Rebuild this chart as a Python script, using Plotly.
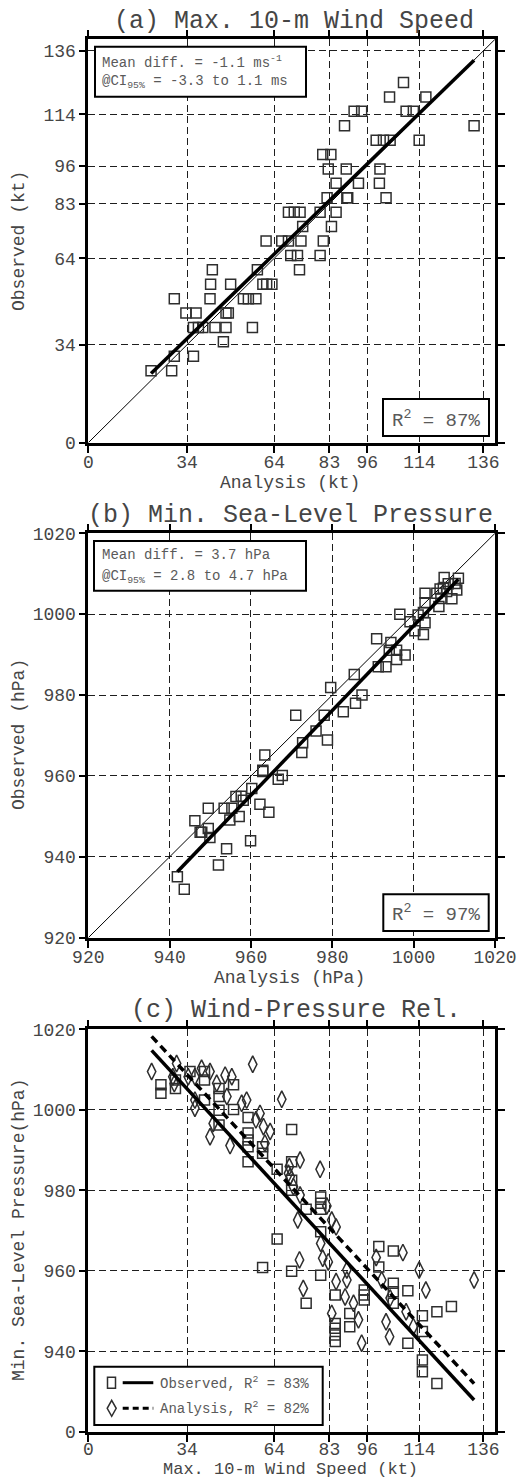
import numpy as np
import plotly.graph_objects as go

W, H = 521, 1480

# ---------------- panel (a): max. 10-m wind speed (kt) ----------------
wind_analysis = [21.6, 28.7, 29.6, 36.2, 46.5,
                 36.2, 37.9, 39.4, 43.6, 47.4, 56.5,
                 33.6, 37.1, 47.4, 48.2,
                 29.6, 41.9, 53.4, 55.1, 57.7,
                 42.1, 49.0, 60.1, 61.4, 63.2,
                 42.7, 58.2, 72.7,
                 69.7, 72.0, 79.8,
                 61.2, 66.6, 68.9, 73.2, 80.9,
                 73.8, 83.7,
                 68.9, 70.9, 72.9, 79.8, 85.3,
                 82.2, 89.0, 89.3, 102.5,
                 85.3, 93.0, 100.2,
                 82.6, 88.8, 100.4,
                 80.7, 83.5,
                 99.1, 101.6, 103.9, 113.9,
                 88.2, 132.8,
                 91.5, 94.1, 109.4, 111.9,
                 103.7, 116.2,
                 108.5]
wind_observed = [25, 25, 30, 30, 35,
                 40, 40, 40, 40, 40, 40,
                 45, 45, 45, 45,
                 50, 50, 50, 50, 50,
                 55, 55, 55, 55, 55,
                 60, 60, 60,
                 65, 65, 65,
                 70, 70, 70, 70, 70,
                 75, 75,
                 80, 80, 80, 80, 80,
                 85, 85, 85, 85,
                 90, 90, 90,
                 95, 95, 95,
                 100, 100,
                 105, 105, 105, 105,
                 110, 110,
                 115, 115, 115, 115,
                 120, 120,
                 125]

# ---------------- panel (b): min. sea-level pressure (hPa) ----------------
slp_analysis = [1007.5, 1011.0, 1008.5, 1010.2, 1007.3, 1010.6, 1006.5, 1005.7,
                1009.4, 1006.7, 1006.2, 1008.1, 1002.8, 1002.8, 1002.4, 1001.1,
                996.6, 999.1, 1002.8, 1000.3, 1002.4, 990.9, 994.4, 994.0,
                995.8, 997.9, 995.8, 991.3, 993.2, 985.4, 987.3, 985.7,
                979.6, 982.7, 971.0, 978.0, 976.0, 978.8, 972.7, 972.5,
                963.4, 962.9, 962.9, 966.7, 967.7, 960.2, 956.3, 957.6,
                958.1, 949.5, 953.4, 955.3, 962.2, 964.4, 946.2, 954.8,
                957.1, 949.5, 947.5, 947.9, 949.9, 959.9, 954.0, 952.0,
                941.9, 943.6]
slp_observed = [1009.1, 1008.9, 1007.5, 1007.6, 1006.4, 1006.0, 1006.2, 1005.2,
                1003.8, 1003.9, 1001.9, 1005.6, 1005.2, 1002.8, 1000.4, 999.8,
                1000.0, 998.1, 997.9, 995.9, 995.0, 993.9, 993.0, 991.1,
                991.1, 989.9, 988.8, 987.0, 987.0, 985.1, 980.0, 978.0,
                981.9, 975.9, 975.0, 975.0, 971.1, 968.9, 968.2, 965.8,
                965.2, 961.1, 961.4, 959.2, 960.1, 956.9, 954.9, 955.0,
                954.0, 952.0, 952.0, 952.0, 953.0, 951.0, 948.9, 949.1,
                950.0, 947.0, 946.1, 946.1, 944.8, 944.0, 942.0, 938.0,
                935.1, 932.0]

# ---------------- panel (c): wind-pressure relationship ----------------
obs_wind = [25, 25, 30, 30, 35, 40, 40, 40, 45, 45, 45, 45, 50, 50,
            55, 55, 55, 55, 55, 60, 60, 60, 65, 65,
            70, 70, 70, 70, 70, 75, 75, 80, 80, 80, 80, 80,
            85, 85, 85, 85, 85, 90, 90, 95, 95, 95, 100, 100,
            105, 105, 105, 105, 110, 110, 115, 115, 115, 115,
            120, 120, 125]
obs_slp = [1006.2, 1004.1, 1007.4, 1005.3, 1009.5, 1009.5, 1007.4, 1002.4,
           1005.3, 1003.3, 999.9, 996.2, 1006.2, 1000.1,
           998.1, 994.2, 992.5, 990.8, 987.1, 990.8, 989.2, 960.8, 985.2, 967.9,
           995.1, 987.1, 982.5, 980.0, 959.9, 975.3, 951.9,
           978.3, 976.8, 975.3, 969.7, 958.9,
           954.0, 946.9, 945.7, 944.0, 942.4, 949.4, 946.1,
           955.2, 954.0, 952.7, 966.0, 960.9,
           964.9, 956.9, 954.8, 951.9, 955.0, 942.0,
           948.8, 944.9, 937.8, 934.9, 949.8, 932.0, 951.1]

ana_wind = [21.8, 29.1, 30.4, 29.6, 34.4, 36.7, 39.0, 41.9, 36.7, 36.7,
            44.2, 47.1, 49.4, 47.7, 43.0, 41.9, 48.8, 52.8, 54.5, 56.6,
            59.1, 57.7, 60.3, 62.6, 60.8, 66.6, 69.2, 68.9, 72.9, 79.8,
            69.5, 70.6, 72.9, 72.1, 82.1, 83.8, 85.3, 80.0, 80.7, 82.6,
            72.7, 74.0, 85.3, 89.0, 89.0, 88.4, 83.8, 91.3, 93.0, 94.1,
            99.1, 101.0, 103.9, 102.5, 103.7, 108.3, 109.4, 111.9, 113.9,
            116.2, 132.8]
ana_slp = [1009.5, 1008.2, 1011.5, 1006.5, 1008.2, 1008.2, 1010.3, 1009.5,
           1002.4, 1000.4, 1006.6, 1008.6, 1008.2, 1003.3, 996.6, 993.3,
           991.1, 1001.6, 1002.4, 1011.3, 999.1, 997.5, 995.8, 994.6,
           991.7, 1002.6, 985.9, 984.2, 987.5, 985.2, 983.4, 980.9, 978.8,
           972.6, 976.1, 972.6, 970.9, 966.8, 963.1, 962.2, 962.7, 955.6,
           957.3, 960.2, 957.7, 953.5, 949.4, 951.9, 947.8, 942.0, 963.3,
           957.7, 953.2, 947.3, 943.6, 964.5, 949.8, 946.1, 960.2, 955.2,
           957.7]

# ---------------- axes ----------------
wind_ticks = [0, 34, 64, 83, 96, 114, 136]
wind_range = [0, 140]
slp_ticks = [920, 940, 960, 980, 1000, 1020]
slp_range = [920, 1020]
slp_ticktext_c = ["0", "940", "960", "980", "1000", "1020"]

FONT = "Liberation Mono, Courier New, monospace"
INK = "#454545"
SOFT = "#5a5a5a"
MARK = "#2e2e2e"

X0, X1 = 88.3, 495.0
ROWS = {"a": (39.3, 442.7), "b": (533.3, 937.7), "c": (1029.3, 1431.7)}


def fx(p):
    return p / W


def fy(p):
    return 1 - p / H


def ydom(key):
    top, bot = ROWS[key]
    return [fy(bot), fy(top)]


def axis(ticks, rng, domain, anchor, standoff, ticktext=None):
    return dict(
        range=rng, tickmode="array", tickvals=ticks,
        ticktext=ticktext if ticktext else [str(t) for t in ticks],
        domain=domain, anchor=anchor,
        showline=True, linecolor="black", linewidth=2.6, mirror="ticks",
        ticks="outside", ticklen=7, tickwidth=1.5, tickcolor="black",
        ticklabelstandoff=standoff,
        showgrid=True, gridcolor="#1e1e1e", gridwidth=1, griddash="7px,4px",
        zeroline=False, automargin=False, fixedrange=True,
        tickfont=dict(family=FONT, size=18, color=INK),
    )


def fit_line(x, y, xs):
    k, b = np.polyfit(np.asarray(x, float), np.asarray(y, float), 1)
    xs = np.asarray(xs, float)
    return xs, k * xs + b


fig = go.Figure()

sq = dict(symbol="square-open", size=10, color=MARK, line=dict(width=1.5))
dm = dict(symbol="diamond-tall-open", size=12, color=MARK, line=dict(width=1.5))

# (a)
fig.add_trace(go.Scatter(x=wind_range, y=wind_range, mode="lines",
                         line=dict(color="black", width=1), xaxis="x", yaxis="y"))
fig.add_trace(go.Scatter(x=wind_analysis, y=wind_observed, mode="markers",
                         marker=sq, xaxis="x", yaxis="y"))
xa, ya = fit_line(wind_analysis, wind_observed, [min(wind_analysis), max(wind_analysis)])
fig.add_trace(go.Scatter(x=xa, y=ya, mode="lines", line=dict(color="black", width=3.5),
                         xaxis="x", yaxis="y"))

# (b)
fig.add_trace(go.Scatter(x=slp_range, y=slp_range, mode="lines",
                         line=dict(color="black", width=1), xaxis="x2", yaxis="y2"))
fig.add_trace(go.Scatter(x=slp_analysis, y=slp_observed, mode="markers",
                         marker=sq, xaxis="x2", yaxis="y2"))
xb, yb = fit_line(slp_analysis, slp_observed, [min(slp_analysis), max(slp_analysis)])
fig.add_trace(go.Scatter(x=xb, y=yb, mode="lines", line=dict(color="black", width=3.5),
                         xaxis="x2", yaxis="y2"))

# (c)
fig.add_trace(go.Scatter(x=obs_wind, y=obs_slp, mode="markers", marker=sq,
                         xaxis="x3", yaxis="y3"))
fig.add_trace(go.Scatter(x=ana_wind, y=ana_slp, mode="markers", marker=dm,
                         xaxis="x3", yaxis="y3"))
span = [min(min(obs_wind), min(ana_wind)), max(max(obs_wind), max(ana_wind))]
xo, yo = fit_line(obs_wind, obs_slp, span)
fig.add_trace(go.Scatter(x=xo, y=yo, mode="lines", line=dict(color="black", width=3.5),
                         xaxis="x3", yaxis="y3"))
xn, yn = fit_line(ana_wind, ana_slp, span)
fig.add_trace(go.Scatter(x=xn, y=yn, mode="lines",
                         line=dict(color="black", width=3.5, dash="8px,5px"),
                         xaxis="x3", yaxis="y3"))

xdom = [fx(X0), fx(X1)]
fig.update_layout(
    width=W, height=H, margin=dict(l=0, r=0, t=0, b=0),
    paper_bgcolor="white", plot_bgcolor="white", showlegend=False,
    template="none",
    xaxis=axis(wind_ticks, wind_range, xdom, "y", -6),
    yaxis=axis(wind_ticks, wind_range, ydom("a"), "x", -1),
    xaxis2=axis(slp_ticks, slp_range, xdom, "y2", -6),
    yaxis2=axis(slp_ticks, slp_range, ydom("b"), "x2", -1),
    xaxis3=axis(wind_ticks, wind_range, xdom, "y3", -8),
    yaxis3=axis(slp_ticks, slp_range, ydom("c"), "x3", -1, slp_ticktext_c),
)

ann = []
shapes = []


def text(x, y, s, size, color=INK, anchor="center", angle=0):
    ann.append(dict(x=fx(x), y=fy(y), xref="paper", yref="paper", text=s,
                    showarrow=False, xanchor=anchor, yanchor="middle",
                    textangle=angle, font=dict(family=FONT, size=size, color=color)))


def box(x0, y0, x1, y1):
    shapes.append(dict(type="rect", xref="paper", yref="paper",
                       x0=fx(x0), x1=fx(x1), y0=fy(y1), y1=fy(y0),
                       line=dict(color="black", width=2), fillcolor="white",
                       layer="above"))


# panel titles
text(294, 21, "(a) Max. 10-m Wind Speed", 25)
text(290, 515, "(b) Min. Sea-Level Pressure", 25)
text(296, 1010, "(c) Wind-Pressure Rel.", 25)

# axis titles
text(290, 483, "Analysis (kt)", 18)
text(289, 978, "Analysis (hPa)", 18)
text(290, 1469, "Max. 10-m Wind Speed (kt)", 17)
text(19, 241, "Observed (kt)", 18, angle=-90)
text(19, 735, "Observed (hPa)", 18, angle=-90)
text(19, 1230, "Min. Sea-Level Pressure(hPa)", 18, angle=-90)

# statistics boxes
box(95, 46.7, 306, 96.7)
text(100, 62, "Mean diff. = -1.1 ms<sup>-1</sup>", 14, SOFT, "left")
text(100, 82, "@CI<sub>95%</sub> = -3.3 to 1.1 ms", 14, SOFT, "left")
box(383, 399, 489, 436)
text(436, 419, "R<sup>2</sup> = 87%", 19, SOFT)

box(94, 541, 306, 590.7)
text(100, 555, "Mean diff. = 3.7 hPa", 14, SOFT, "left")
text(100, 577, "@CI<sub>95%</sub> = 2.8 to 4.7 hPa", 14, SOFT, "left")
box(383.3, 894.3, 488.7, 931)
text(436, 913, "R<sup>2</sup> = 97%", 19, SOFT)

# legend for panel (c)
box(94.3, 1366.7, 322.7, 1425)
ly1, ly2 = 1382.7, 1408.3
shapes.append(dict(type="rect", xref="paper", yref="paper",
                   x0=fx(107.5), x1=fx(115.5), y0=fy(ly1 + 5.5), y1=fy(ly1 - 5.5),
                   line=dict(color=MARK, width=1.5), layer="above"))
shapes.append(dict(type="line", xref="paper", yref="paper",
                   x0=fx(122.7), x1=fx(153.3), y0=fy(ly1), y1=fy(ly1),
                   line=dict(color="black", width=3), layer="above"))
dpath = "M {} {} L {} {} L {} {} L {} {} Z".format(
    fx(111.7), fy(ly2 - 8), fx(116.2), fy(ly2), fx(111.7), fy(ly2 + 8), fx(107.2), fy(ly2))
shapes.append(dict(type="path", xref="paper", yref="paper", path=dpath,
                   line=dict(color=MARK, width=1.5), layer="above"))
shapes.append(dict(type="line", xref="paper", yref="paper",
                   x0=fx(122.7), x1=fx(153.3), y0=fy(ly2), y1=fy(ly2),
                   line=dict(color="black", width=3, dash="6px,4px"), layer="above"))
text(157.7, ly1, "Observed, R<sup>2</sup> = 83%", 14, SOFT, "left")
text(157.7, ly2, "Analysis, R<sup>2</sup> = 82%", 14, SOFT, "left")

fig.update_layout(annotations=ann, shapes=shapes)

fig.write_html("out.html")
